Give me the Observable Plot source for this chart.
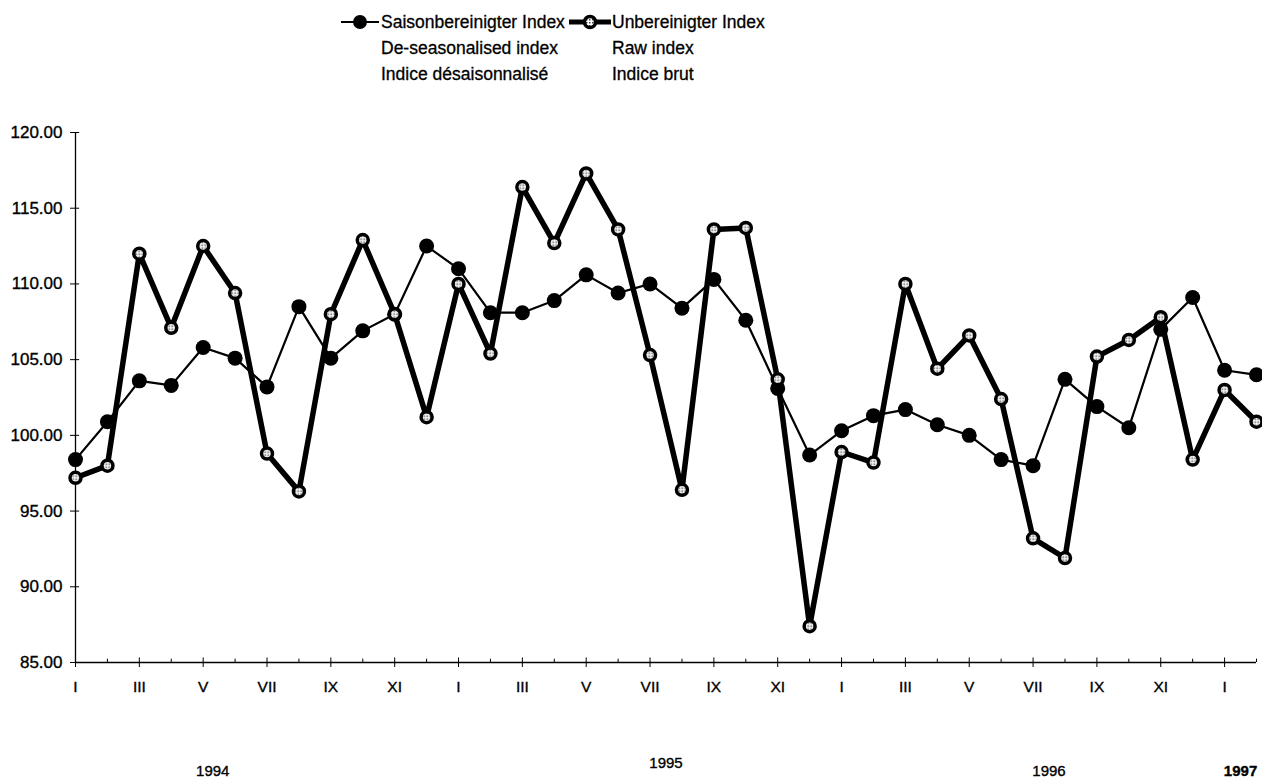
<!DOCTYPE html>
<html><head><meta charset="utf-8">
<script src="https://cdn.jsdelivr.net/npm/d3@7"></script>
<script src="https://cdn.jsdelivr.net/npm/@observablehq/plot@0.6"></script>
<style>
body{margin:0;background:#fff;font-family:"Liberation Sans",Arial,sans-serif;}
#wrap{position:relative;width:1262px;height:778px;overflow:hidden;}
#legend{position:absolute;left:0;top:0;width:1262px;height:100px;}
.lt{position:absolute;font-size:17.5px;line-height:26px;color:#000;white-space:nowrap;-webkit-text-stroke:0.3px #000;}
.sw{position:absolute;}
#chart{position:absolute;left:0;top:100px;}
#chart svg text{stroke:#000;stroke-width:0.35px;}
</style></head><body>
<div id="wrap"><div id="legend"></div><div id="chart"></div></div>
<script>
// ---- data (Jan 1994 – Feb 1997, monthly) ----
const deseasonalised = [
  98.4, 100.9, 103.6, 103.3, 105.8, 105.1, 103.2, 108.5, 105.1, 106.9, 108.0, 112.5,
  111.0, 108.1, 108.1, 108.9, 110.6, 109.4, 110.0, 108.4, 110.3, 107.6, 103.1, 98.7,
  100.3, 101.3, 101.7, 100.7, 100.0, 98.4, 98.0, 103.7, 101.9, 100.5, 107.0, 109.1,
  104.3, 104.0
];
const rawIndex = [
  97.2, 98.0, 112.0, 107.1, 112.5, 109.4, 98.8, 96.3, 108.0, 112.9, 108.0, 101.2,
  110.0, 105.4, 116.4, 112.7, 117.3, 113.6, 105.3, 96.4, 113.6, 113.7, 103.7, 87.4,
  98.9, 98.2, 110.0, 104.4, 106.6, 102.4, 93.2, 91.9, 105.2, 106.3, 107.8, 98.4,
  103.0, 100.9
];
const monthNames = ["I","II","III","IV","V","VI","VII","VIII","IX","X","XI","XII"];
const yTicks = [85, 90, 95, 100, 105, 110, 115, 120];
const yearLabels = ["1994", "1995", "1996", "1997"];
const yearAt = [4.3, 18.5, 30.5, 36.5]; // month index under which each year label sits
const legendDe = ["Saisonbereinigter Index", "De-seasonalised index", "Indice désaisonnalisé"];
const legendRaw = ["Unbereinigter Index", "Raw index", "Indice brut"];

// ---- tables ----
const deRows = deseasonalised.map((v, i) => ({i, value: v}));
const rawRows = rawIndex.map((v, i) => ({i, value: v}));
const n = deseasonalised.length;
const majorIdx = d3.range(0, n, 2);
const minorIdx = d3.range(1, n, 2);
const years = yearLabels.map((t, k) => ({label: t, at: yearAt[k]}));

// ---- legend ----
const legend = document.getElementById("legend");
function addLines(lines, left) {
  const d = document.createElement("div");
  d.className = "lt"; d.style.left = left + "px"; d.style.top = "9px";
  d.innerHTML = lines.join("<br>");
  legend.appendChild(d);
}
const NS = "http://www.w3.org/2000/svg";
function swatch(left, width, sw, r, fill, ringW) {
  const s = document.createElementNS(NS, "svg");
  s.setAttribute("width", width); s.setAttribute("height", 24);
  s.setAttribute("class", "sw");
  s.style.left = left + "px"; s.style.top = "10px";
  s.innerHTML = `<defs><pattern id="hatchL${left}" width="3" height="3" patternUnits="userSpaceOnUse"><rect width="3" height="3" fill="#fff"/><rect width="1.5" height="1.5" fill="#444"/></pattern></defs>
  <line x1="1" x2="${width-1}" y1="12" y2="12" stroke="#000" stroke-width="${sw}"/>
  <circle cx="${width/2}" cy="12" r="${r}" fill="${fill === 'hatch' ? `url(#hatchL${left})` : '#000'}" stroke="#000" stroke-width="${ringW}"/>`;
  legend.appendChild(s);
}
swatch(340, 40, 2.2, 7, "#000", 0);
addLines(legendDe, 381);
swatch(568, 44, 5, 5.5, "hatch", 3.5);
addLines(legendRaw, 612);

// ---- chart ----
const chart = Plot.plot({
  width: 1262,
  height: 678,
  marginLeft: 75,
  marginRight: 6,
  marginTop: 32,
  marginBottom: 116,
  style: {fontFamily: '"Liberation Sans", Arial, sans-serif', fontSize: "15px", color: "#000", background: "#fff"},
  x: {domain: [0, n - 1], label: null},
  y: {domain: [85, 120], label: null},
  marks: [
    Plot.ruleY([85], {stroke: "#000", strokeWidth: 1.6}),
    Plot.ruleX([0], {stroke: "#000", strokeWidth: 1.3}),
    Plot.axisY({ticks: yTicks, tickFormat: d3.format(".2f"), tickSize: 5, tickPadding: 8, fontSize: 17, stroke: "#000"}),
    Plot.ruleY(yTicks, {x1: 0, x2: 0.13, stroke: "#000"}),
    Plot.axisX({ticks: majorIdx, tickFormat: i => monthNames[i % 12], tickSize: 5, tickPadding: 13, fontSize: 15.5, stroke: "#000"}),
    Plot.ruleX(majorIdx, {y1: 85, y2: 85.3, stroke: "#000"}),
    Plot.ruleX(minorIdx, {y1: 85, y2: 85.22, stroke: "#000"}),
    Plot.line(deRows, {x: "i", y: "value", stroke: "#000", strokeWidth: 2.2}),
    Plot.dot(deRows, {x: "i", y: "value", r: 7.5, fill: "#000"}),
    Plot.line(rawRows, {x: "i", y: "value", stroke: "#000", strokeWidth: 5.5, strokeLinejoin: "miter"}),
    Plot.dot(rawRows, {x: "i", y: "value", r: 5.5, fill: "url(#hatch)", stroke: "#000", strokeWidth: 3.5}),
    Plot.text(years.filter(d => d.label === "1994" || d.label === "1996"), {x: "at", y: 85, text: "label", dy: 109, fontSize: 15}),
    Plot.text(years.filter(d => d.label === "1995"), {x: "at", y: 85, text: "label", dy: 101, fontSize: 15}),
    Plot.text(years.filter(d => d.label === "1997"), {x: "at", y: 85, text: "label", dy: 109, fontSize: 15, fontWeight: "bold"})
  ]
});
const defs = document.createElementNS(NS, "defs");
defs.innerHTML = `<pattern id="hatch" width="3" height="3" patternUnits="userSpaceOnUse"><rect width="3" height="3" fill="#fff"/><rect width="1.5" height="1.5" fill="#444"/></pattern>`;
chart.insertBefore(defs, chart.firstChild);
document.getElementById("chart").appendChild(chart);
</script>
</body></html>
